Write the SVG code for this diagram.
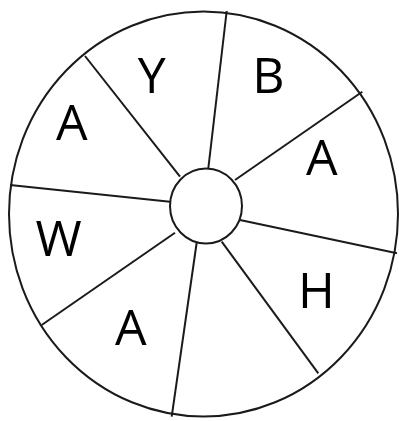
<svg xmlns="http://www.w3.org/2000/svg" width="399" height="421" viewBox="0 0 399 421">
<style>
.s{stroke:#1a1a1a;stroke-width:2;fill:none}
.t{font-family:"Open Sans","Liberation Sans",sans-serif;font-size:50px;fill:#000;text-anchor:middle}
</style>
<rect width="399" height="421" fill="#fff"/>
<g id="outer"><ellipse class="s" cx="203.5" cy="214" rx="194.5" ry="202.5"/></g>
<g id="connectors">
<line class="s" x1="226.7" y1="11" x2="208.3" y2="168.5"/>
<line class="s" x1="362.3" y1="91.7" x2="235" y2="180"/>
<line class="s" x1="240" y1="220" x2="397" y2="253.3"/>
<line class="s" x1="221.7" y1="241.7" x2="318.3" y2="373.3"/>
<line class="s" x1="196.7" y1="242.5" x2="171.7" y2="416.7"/>
<line class="s" x1="175" y1="232.7" x2="41.7" y2="325"/>
<line class="s" x1="10" y1="185" x2="170" y2="201.7"/>
<line class="s" x1="85" y1="56" x2="180" y2="176.7"/>
</g>
<g id="hub"><ellipse class="s" cx="206" cy="206" rx="36" ry="37.5" fill="#fff"/></g>
<g id="label-Y"><text class="t" x="151.7" y="93.3">Y</text></g>
<g id="label-B"><text class="t" x="268.3" y="93.3">B</text></g>
<g id="label-A1"><text class="t" x="71.7" y="140">A</text></g>
<g id="label-A2"><text class="t" x="321.7" y="175">A</text></g>
<g id="label-W"><text class="t" x="58.5" y="255.5">W</text></g>
<g id="label-H"><text class="t" x="316.5" y="308">H</text></g>
<g id="label-A3"><text class="t" x="130.8" y="345">A</text></g>
</svg>
